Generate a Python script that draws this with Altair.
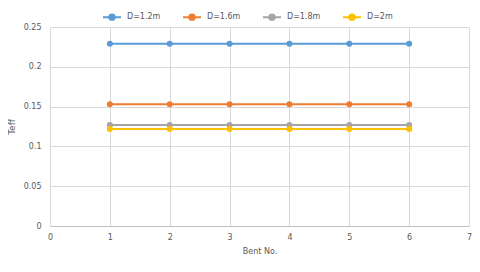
import altair as alt
import pandas as pd

bents = [1, 2, 3, 4, 5, 6]
series_names = ["D=1.2m", "D=1.6m", "D=1.8m", "D=2m"]
series_values = [
    [0.229, 0.229, 0.229, 0.229, 0.229, 0.229],
    [0.153, 0.153, 0.153, 0.153, 0.153, 0.153],
    [0.127, 0.127, 0.127, 0.127, 0.127, 0.127],
    [0.122, 0.122, 0.122, 0.122, 0.122, 0.122],
]
colors = ["#5B9BD5", "#ED7D31", "#A5A5A5", "#FFC000"]

rows = []
for name, vals in zip(series_names, series_values):
    for b, v in zip(bents, vals):
        rows.append({"Bent": b, "Teff": v, "Series": name})
df = pd.DataFrame(rows)

FONT = "DejaVu Sans"
color = alt.Color(
    "Series:N",
    scale=alt.Scale(domain=series_names, range=colors),
    legend=alt.Legend(
        title=None,
        orient="none",
        legendX=52,
        legendY=-20,
        direction="horizontal",
        symbolType="M-1,0L-0.3,0M0.3,0L1,0M-0.3,0A0.3,0.3,0,1,1,0.3,0A0.3,0.3,0,1,1,-0.3,0Z",
        symbolSize=324,
        symbolStrokeWidth=2,
        labelFontSize=8,
        labelFont=FONT,
        labelColor="#595959",
        labelOffset=5,
        columnPadding=18,
    ),
)

x = alt.X(
    "Bent:Q",
    scale=alt.Scale(domain=[0, 7], nice=False),
    axis=alt.Axis(
        title="Bent No.",
        values=[0, 1, 2, 3, 4, 5, 6, 7],
        format="d",
        grid=True,
        ticks=False,
        labelFlush=False,
        labelPadding=7,
        titlePadding=6,
    ),
)
y = alt.Y(
    "Teff:Q",
    scale=alt.Scale(domain=[0, 0.25], nice=False),
    axis=alt.Axis(
        title="Teff",
        values=[0, 0.05, 0.1, 0.15, 0.2, 0.25],
        format="~g",
        grid=True,
        ticks=False,
        domain=False,
        labelFlush=False,
        labelPadding=9,
        titlePadding=7,
        titleFontSize=9,
    ),
)

base = alt.Chart(df)
lines = base.mark_line(strokeWidth=2).encode(x=x, y=y, color=color)
points = base.mark_point(filled=True, size=36, opacity=1).encode(x=x, y=y, color=color)

chart = (
    alt.layer(lines, points)
    .properties(
        width=419,
        height=199,
        autosize=alt.AutoSizeParams(type="none"),
        padding={"left": 42, "top": 19, "right": 3, "bottom": 30},
        background="white",
    )
    .configure_view(stroke=None)
    .configure_axis(
        labelFont=FONT,
        titleFont=FONT,
        labelFontSize=8,
        titleFontSize=8,
        labelColor="#595959",
        titleColor="#595959",
        titleFontWeight="normal",
        gridColor="#D9D9D9",
        domainColor="#BFBFBF",
    )
)

chart.save("out.html", embed_options={"renderer": "svg", "actions": False})
